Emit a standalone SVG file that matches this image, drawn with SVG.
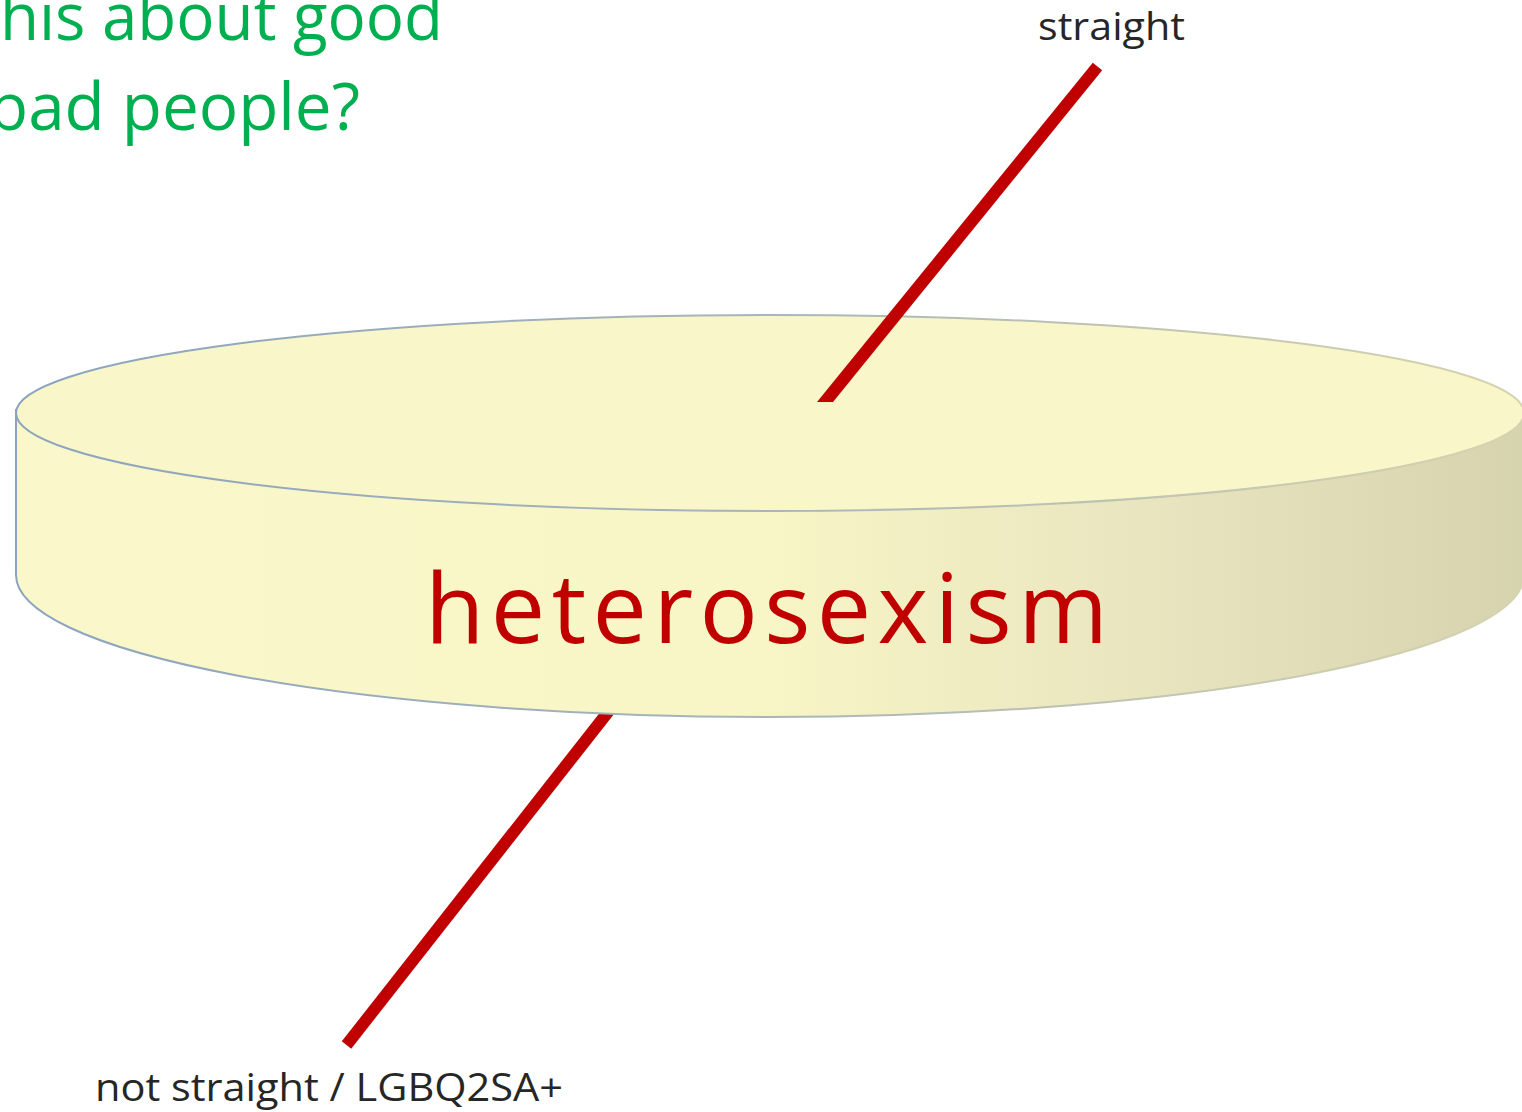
<svg xmlns="http://www.w3.org/2000/svg" width="1522" height="1112" viewBox="0 0 1522 1112">
  <style>
    .green { font-family: "Open Sans", "Liberation Sans", sans-serif; fill: #00B050; font-size: 66px; }
    .label { font-family: "Open Sans", "Liberation Sans", sans-serif; fill: #262626; font-size: 39px; }
    .big { font-family: "Open Sans", "Liberation Sans", sans-serif; fill: #C00000; font-size: 97px; }
    .bar { stroke: #C00000; stroke-width: 12; stroke-linecap: butt; fill: none; }
  </style>
  <defs>
    <linearGradient id="side" x1="0" y1="0" x2="1522" y2="0" gradientUnits="userSpaceOnUse">
      <stop offset="0" stop-color="#FAF8CB"/>
      <stop offset="0.5" stop-color="#F8F5C6"/>
      <stop offset="0.75" stop-color="#E9E5BF"/>
      <stop offset="1" stop-color="#D6D3AF"/>
    </linearGradient>
    <linearGradient id="edge" x1="0" y1="0" x2="1522" y2="0" gradientUnits="userSpaceOnUse">
      <stop offset="0" stop-color="#8AA3BF"/>
      <stop offset="0.5" stop-color="#A9B5B8"/>
      <stop offset="0.85" stop-color="#C9CBB0"/>
      <stop offset="1" stop-color="#D6D3AF"/>
    </linearGradient>
  </defs>
  <rect width="1522" height="1112" fill="#FFFFFF"/>

  <g id="question">
    <text class="green" x="0" y="40" textLength="443" lengthAdjust="spacingAndGlyphs">his about good</text>
    <text class="green" x="-12" y="130" textLength="372" lengthAdjust="spacingAndGlyphs">bad people?</text>
  </g>

  <g id="connectors">
    <line id="bar-lower" class="bar" x1="346.5" y1="1045" x2="630" y2="684"/>
  </g>

  <g id="disk">
    <path d="M16,410 L16,575 A754,142 0 0 0 1524,575 L1524,418 Z" fill="url(#side)" stroke="url(#edge)" stroke-width="2"/>
    <ellipse cx="770" cy="413" rx="754" ry="98" fill="#F9F7C9" stroke="url(#edge)" stroke-width="2"/>
    <text class="big" x="425" y="643" textLength="683" lengthAdjust="spacing">heterosexism</text>
  </g>

  <g id="connectors-top">
    <polygon id="bar-upper" points="1092.8,62.7 1102.2,70.3 833,402 817,402" fill="#C00000"/>
  </g>

  <g id="labels">
    <text class="label" x="1038" y="40" textLength="147" lengthAdjust="spacingAndGlyphs">straight</text>
    <text class="label" x="95" y="1101" textLength="468" lengthAdjust="spacingAndGlyphs">not straight / LGBQ2SA+</text>
  </g>
</svg>
